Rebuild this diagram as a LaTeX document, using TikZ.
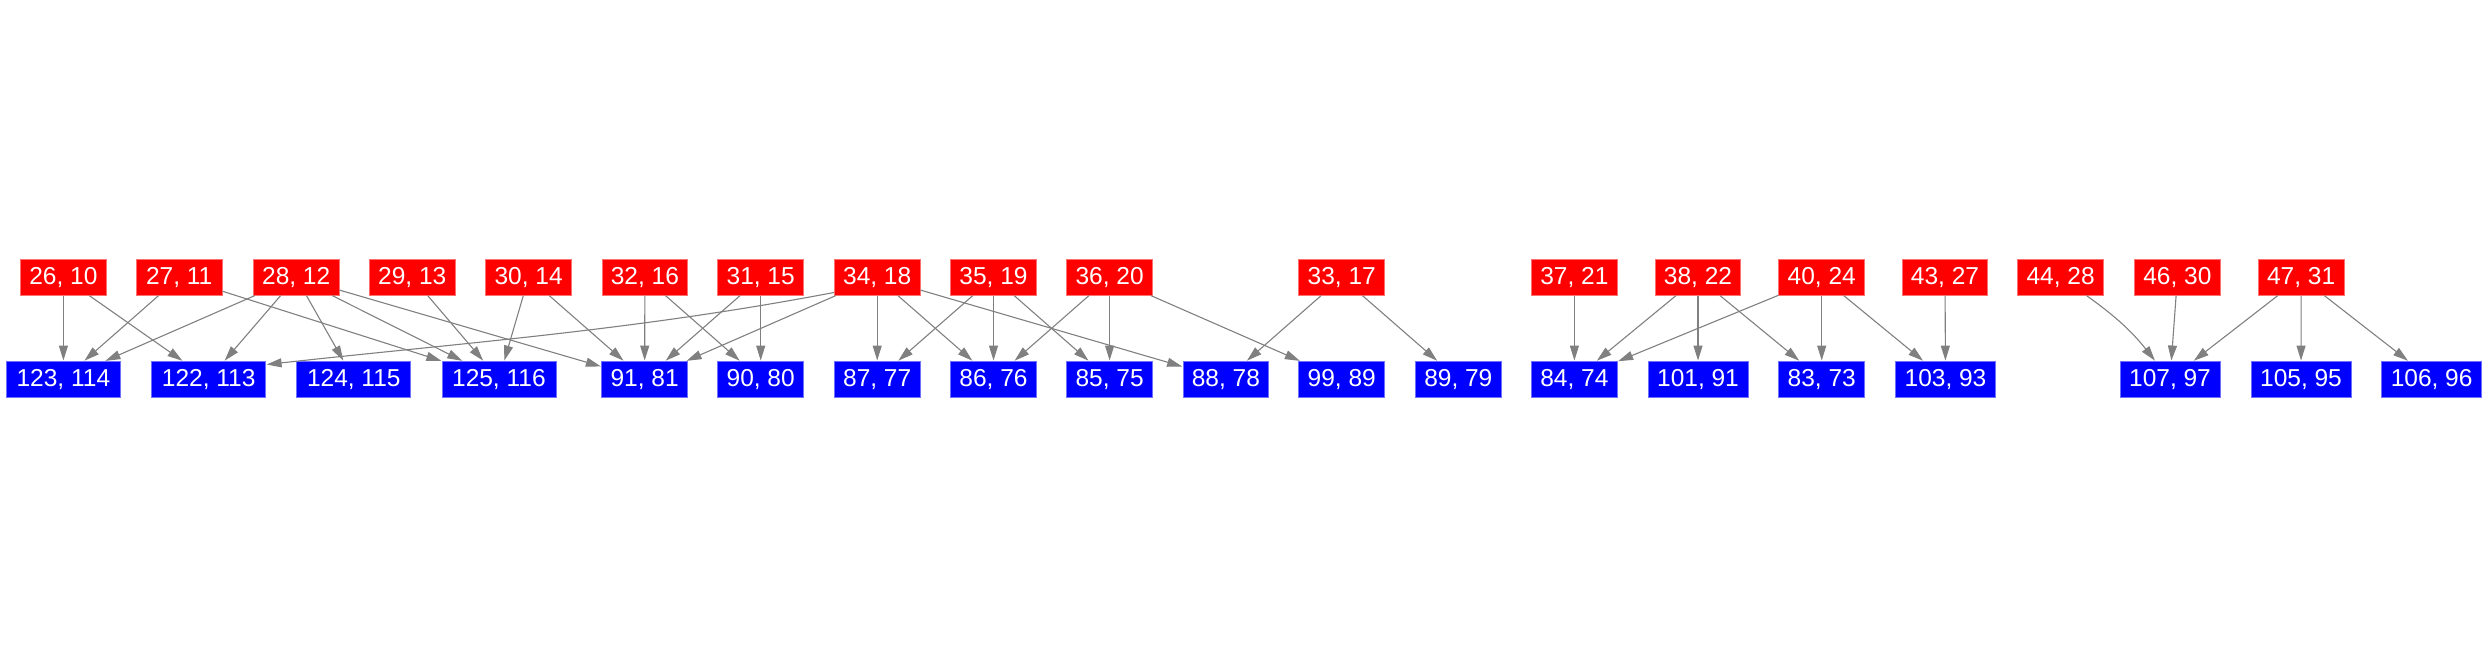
\documentclass[tikz,border=0pt]{standalone}
\usepackage{fontspec}
\setmainfont{Liberation Sans}
\usetikzlibrary{arrows.meta}
\definecolor{edgegray}{HTML}{808080}
\definecolor{redborder}{HTML}{FF7070}
\definecolor{blueborder}{HTML}{7070FF}
\tikzset{
  box/.style={rectangle, inner sep=0pt, minimum height=35.5pt, minimum width=85.7pt,
    text=white, font=\fontsize{24.5pt}{26pt}\selectfont, line width=0.8pt},
  src/.style={box, fill=red, draw=redborder},
  dst/.style={box, fill=blue, draw=blueborder},
  w7/.style={minimum width=100pt},
  w8/.style={minimum width=114pt},
  e/.style={draw=edgegray, line width=1.1pt, -{Triangle[length=15pt,width=9pt]}, shorten >=0.5pt}
}
\begin{document}
\begin{tikzpicture}[x=1pt,y=1pt]
\useasboundingbox (0,0) rectangle (2488,656);
% top row
\def\ty{378.5}
\node[src] (t26) at (63.4,\ty) {26, 10};
\node[src] (t27) at (179.2,\ty) {27, 11};
\node[src] (t28) at (296.2,\ty) {28, 12};
\node[src] (t29) at (412.3,\ty) {29, 13};
\node[src] (t30) at (528.6,\ty) {30, 14};
\node[src] (t32) at (644.9,\ty) {32, 16};
\node[src] (t31) at (760.7,\ty) {31, 15};
\node[src] (t34) at (877.2,\ty) {34, 18};
\node[src] (t35) at (993.5,\ty) {35, 19};
\node[src] (t36) at (1109.6,\ty) {36, 20};
\node[src] (t33) at (1341.7,\ty) {33, 17};
\node[src] (t37) at (1574.4,\ty) {37, 21};
\node[src] (t38) at (1698,\ty) {38, 22};
\node[src] (t40) at (1821.7,\ty) {40, 24};
\node[src] (t43) at (1945,\ty) {43, 27};
\node[src] (t44) at (2060.6,\ty) {44, 28};
\node[src] (t46) at (2177.4,\ty) {46, 30};
\node[src] (t47) at (2301.1,\ty) {47, 31};
% bottom row
\def\by{276.8}
\node[dst,w8] (b123) at (63.4,\by) {123, 114};
\node[dst,w8] (b122) at (208.7,\by) {122, 113};
\node[dst,w8] (b124) at (353.8,\by) {124, 115};
\node[dst,w8] (b125) at (498.9,\by) {125, 116};
\node[dst] (b91) at (644.6,\by) {91, 81};
\node[dst] (b90) at (760.7,\by) {90, 80};
\node[dst] (b87) at (877.2,\by) {87, 77};
\node[dst] (b86) at (993.5,\by) {86, 76};
\node[dst] (b85) at (1109.6,\by) {85, 75};
\node[dst] (b88) at (1225.9,\by) {88, 78};
\node[dst] (b99) at (1341.7,\by) {99, 89};
\node[dst] (b89) at (1458.3,\by) {89, 79};
\node[dst] (b84) at (1574.4,\by) {84, 74};
\node[dst,w7] (b101) at (1698,\by) {101, 91};
\node[dst] (b83) at (1821.7,\by) {83, 73};
\node[dst,w7] (b103) at (1945.5,\by) {103, 93};
\node[dst,w7] (b107) at (2170,\by) {107, 97};
\node[dst,w7] (b105) at (2301,\by) {105, 95};
\node[dst,w7] (b106) at (2431.6,\by) {106, 96};
% edges
\draw[e] (t26) -- (b123);
\draw[e] (t26) -- (b122);
\draw[e] (t27) -- (b123);
\draw[e] (t27) -- (b125);
\draw[e] (t28) -- (b123);
\draw[e] (t28) -- (b122);
\draw[e] (t28) -- (b124);
\draw[e] (t28) -- (b125);
\draw[e] (t28) -- (b91);
\draw[e] (t29) -- (b125);
\draw[e] (t30) -- (b125);
\draw[e] (t30) -- (b91);
\draw[e] (t32) -- (b91);
\draw[e] (t32) -- (b90);
\draw[e] (t31) -- (b91);
\draw[e] (t31) -- (b90);
\draw[e] ([yshift=-15pt]t34.west) .. controls +(-200,-38) and +(200,22) .. ([yshift=-3.5pt]b122.north east);
\draw[e] (t34) -- (b91);
\draw[e] (t34) -- (b87);
\draw[e] (t34) -- (b86);
\draw[e] (t34) -- (b88);
\draw[e] (t35) -- (b87);
\draw[e] (t35) -- (b86);
\draw[e] (t35) -- (b85);
\draw[e] (t36) -- (b86);
\draw[e] (t36) -- (b85);
\draw[e] (t36) -- (b99);
\draw[e] (t33) -- (b88);
\draw[e] (t33) -- (b89);
\draw[e] (t37) -- (b84);
\draw[e] (t38) -- (b84);
\draw[e] (t38) -- (b101);
\draw[e] (t38) -- (b83);
\draw[e] (t40) -- (b84);
\draw[e] (t40) -- (b83);
\draw[e] (t40) -- (b103);
\draw[e] (t43) -- (b103);
\draw[e] (t44) to[bend left=8] (b107);
\draw[e] (t46) -- (b107);
\draw[e] (t47) -- (b107);
\draw[e] (t47) -- (b105);
\draw[e] (t47) -- (b106);
\end{tikzpicture}
\end{document}
